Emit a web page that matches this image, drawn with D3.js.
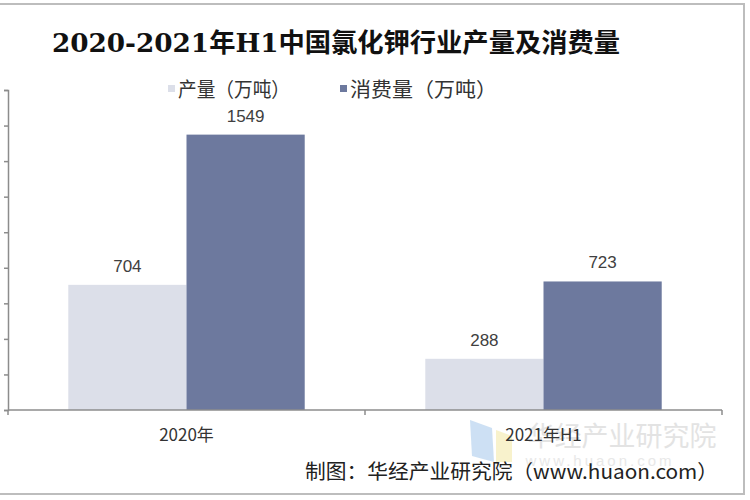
<!DOCTYPE html>
<html><head><meta charset="utf-8">
<script src="https://cdn.jsdelivr.net/npm/d3@7"></script>
<style>body{margin:0;background:#fff}svg{display:block}</style>
</head><body>
<script>
const categories = ["2020年", "2021年H1"];
const seriesNames = ["产量（万吨）", "消费量（万吨）"];
const production = [704, 288];
const consumption = [1549, 723];
const yTicks = [0, 200, 400, 600, 800, 1000, 1200, 1400, 1600, 1800];
const colors = ["#dcdfe9", "#6d799e"];

const W = 750, H = 500;
const svg = d3.select("body").append("svg").attr("width", W).attr("height", H);
svg.append("rect").attr("x", -2).attr("y", 4).attr("width", 746).attr("height", 490)
  .attr("fill", "#fff").attr("stroke", "#bdbdbd").attr("stroke-width", 2);

const y = d3.scaleLinear().domain([0, 1800]).range([410, 90]);
const x0 = d3.scaleBand().domain(categories).range([8, 722]).padding(0);
const x1 = d3.scaleBand().domain(seriesNames).range([0, x0.bandwidth()]).paddingInner(0).paddingOuter(0.51);

const data = categories.map((c, i) => ({cat: c, vals: [production[i], consumption[i]]}));

// watermark
const wm = svg.append("g").attr("opacity", 0.5);
wm.append("path").attr("d", "M470,420 L492,428 L494,462 L472,456 Z").attr("fill", "#9cc3ea");
wm.append("path").attr("d", "M496,430 L512,436 L512,462 L496,462 Z").attr("fill", "#f3e79a");
wm.append("text").attr("x", 622).attr("y", 446).attr("text-anchor", "middle")
  .attr("font-family", "Noto Sans CJK SC").attr("font-size", 27).attr("fill", "#c8c8c8").text("华经产业研究院");
wm.append("text").attr("x", 600).attr("y", 466).attr("text-anchor", "middle")
  .attr("font-family", "Liberation Sans").attr("font-size", 15).attr("letter-spacing", 3).attr("fill", "#d2d2d2").text("www.huaon.com");

// bars
const g = svg.append("g");
const groups = g.selectAll("g.cat").data(data).join("g").attr("transform", d => `translate(${x0(d.cat)},0)`);
groups.selectAll("rect").data(d => d.vals.map((v, j) => ({s: seriesNames[j], v, j})))
  .join("rect")
  .attr("x", d => x1(d.s)).attr("width", x1.bandwidth())
  .attr("y", d => y(d.v)).attr("height", d => y(0) - y(d.v))
  .attr("fill", d => colors[d.j]);
groups.selectAll("text").data(d => d.vals.map((v, j) => ({s: seriesNames[j], v, j})))
  .join("text")
  .attr("x", d => x1(d.s) + x1.bandwidth() / 2).attr("y", d => y(d.v) - 13)
  .attr("text-anchor", "middle").attr("font-family", "Liberation Sans, Arial").attr("font-size", 17)
  .attr("fill", "#404040").text(d => d.v);

// axes
const yAxis = d3.axisLeft(y).tickValues(yTicks).tickSize(4).tickFormat("");
const ya = svg.append("g").attr("transform", "translate(8,0)").call(yAxis);
ya.selectAll("path,line").attr("stroke", "#8c8c8c").attr("stroke-width", 1.5);

const xa = svg.append("g").attr("transform", "translate(0,410)");
xa.append("line").attr("x1", 8).attr("x2", 722).attr("stroke", "#8c8c8c").attr("stroke-width", 1.5);
const bounds = [x0.range()[0], ...categories.map(c => x0(c) + x0.bandwidth())];
xa.selectAll("line.tk").data(bounds).join("line").attr("class", "tk")
  .attr("x1", d => d).attr("x2", d => d).attr("y1", 0).attr("y2", 5)
  .attr("stroke", "#8c8c8c").attr("stroke-width", 1.5);
xa.selectAll("text").data(categories).join("text")
  .attr("x", d => x0(d) + x0.bandwidth() / 2).attr("y", 31)
  .attr("text-anchor", "middle").attr("font-family", "Noto Sans CJK SC").attr("font-size", 17)
  .attr("fill", "#333").text(d => d);

// title
svg.append("text").attr("x", 52).attr("y", 52)
  .attr("font-family", "DejaVu Serif, Noto Sans CJK SC").attr("font-weight", "bold").attr("font-size", 26)
  .attr("fill", "#111").attr("textLength", 568).attr("lengthAdjust", "spacingAndGlyphs")
  .text("2020-2021年H1中国氯化钾行业产量及消费量");

// legend
const leg = svg.append("g");
const legX = [168, 340];
const legW = [112, 147];
seriesNames.forEach((s, i) => {
  leg.append("rect").attr("x", legX[i]).attr("y", 85).attr("width", 7).attr("height", 7).attr("fill", colors[i]);
  leg.append("text").attr("x", legX[i] + 10).attr("y", 97)
    .attr("font-family", "Noto Sans CJK SC").attr("font-size", 20).attr("fill", "#333")
    .attr("textLength", legW[i]).attr("lengthAdjust", "spacingAndGlyphs").text(s);
});

// footer
svg.append("text").attr("x", 305).attr("y", 479)
  .attr("font-family", "Noto Sans CJK SC").attr("font-size", 20).attr("fill", "#222")
  .attr("textLength", 413).attr("lengthAdjust", "spacingAndGlyphs")
  .text("制图：华经产业研究院（www.huaon.com）");
</script>
</body></html>
